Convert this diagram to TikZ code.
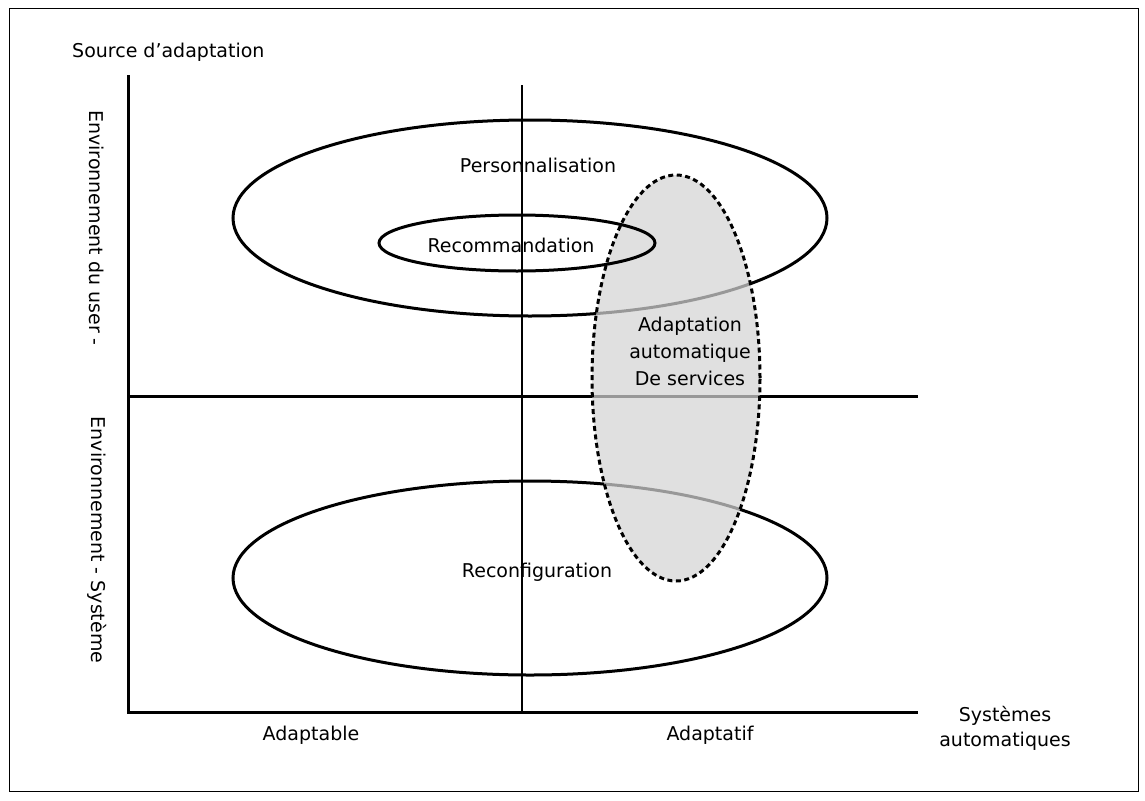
\documentclass[tikz,border=0pt]{standalone}
\usepackage{fontspec}
\setmainfont{DejaVu Sans}
\begin{document}
\begin{tikzpicture}[x=1pt,y=-1pt,
  axis/.style={line width=3pt},
  midline/.style={line width=1.3pt},
  zone/.style={line width=3pt},
  autozone/.style={line width=3pt, dash pattern=on 5pt off 3.5pt,
    fill={rgb,255:red,212;green,212;blue,212}, fill opacity=0.72},
  lbl/.style={font=\fontsize{19}{27}\selectfont, inner sep=0pt, align=center},
  vlbl/.style={lbl, rotate=-90}]
\useasboundingbox (0,0) rectangle (1145,800);
% outer frame
\draw[line width=1pt] (9,9) rectangle (1138,791);

% axes and quadrant separators
\coordinate (ytop) at (128,75);
\coordinate (origin) at (128,712);
\coordinate (xend) at (918,712);
\coordinate (hmidL) at (128,396);
\coordinate (hmidR) at (918,396);
\coordinate (vmidT) at (522,85);
\coordinate (vmidB) at (522,712);
\draw[midline] (vmidT) -- (vmidB);
\draw[axis] (hmidL) -- (hmidR);
\draw[axis] (ytop) -- (origin) -- (xend);

% adaptation zones
\draw[zone] (530,218) ellipse [x radius=297pt, y radius=98pt];
\draw[zone] (530,578) ellipse [x radius=297pt, y radius=97pt];
\draw[autozone] (676,378) ellipse [x radius=84pt, y radius=203pt];
\draw[zone] (517,243) ellipse [x radius=138pt, y radius=28pt];

% labels
\node[lbl, anchor=west] (src) at (72,52) {Source d'adaptation};
\node[vlbl] (envu) at (97,228) {Environnement du user -};
\node[vlbl] (envs) at (97,540) {Environnement - Système};
\node[lbl] (perso) at (538,165) {Personnalisation};
\node[lbl] (reco) at (511,245) {Recommandation};
\node[lbl] (reconf) at (537,572) {Reconfiguration};
\node[lbl] (auto) at (690,351) {Adaptation\\automatique\\De services};
\node[lbl] (adaptable) at (311,735) {Adaptable};
\node[lbl] (adaptatif) at (710,735) {Adaptatif};
\node[lbl, font=\fontsize{19}{25}\selectfont] (sysauto) at (1005,728) {Systèmes\\automatiques};
\end{tikzpicture}
\end{document}
